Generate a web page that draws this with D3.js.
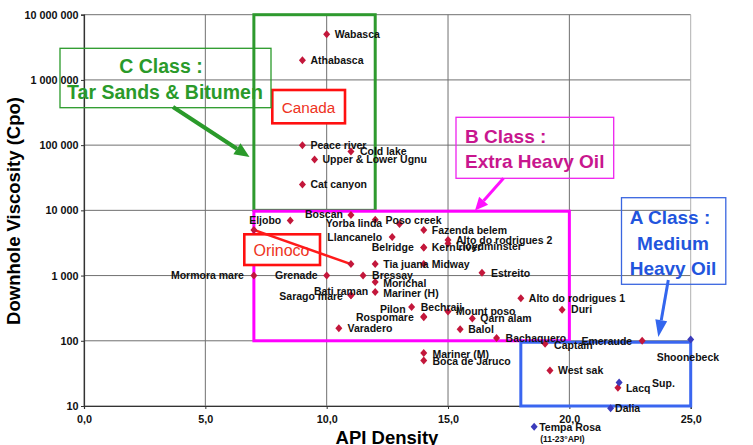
<!DOCTYPE html>
<html><head><meta charset="utf-8">
<script src="https://cdn.jsdelivr.net/npm/d3@7"></script>
<style>
body{margin:0;background:#fff;}
svg{display:block;font-family:"Liberation Sans",Arial,sans-serif;}
</style>
</head><body>
<svg id="c" width="753" height="445"></svg>
<script>
// ---------- DATA ----------
const redNames = ["Wabasca","Athabasca","Peace river","Cold lake","Upper & Lower Ugnu","Cat canyon",
  "Eljobo","Boscan","Yorba linda","Poso creek","Llancanelo","Fazenda belem","Belridge","Kern river",
  "Alto do rodrigues 2","Lloydminster","Tia juana","Midway","Estreito","Mormora mare","Grenade","Bressay",
  "Morichal","Mariner (H)","Bati raman","Sarago mare","Alto do rodrigues 1","Duri","Pilon","Bechraji",
  "Rospomare","Mount poso","Qarn alam","Varadero","Balol","Bachaquero","Mariner (M)","Boca de Jaruco",
  "Captain","Emeraude","West sak","Lacq"];
const redApi = [10,9,9,11,9.5,9,
  8.5,11,12,13,12.7,14,14,14,
  15,15,12,14,16.4,7,10,11.5,
  12,12,11,11,18,19.7,13.5,14,
  14,15,16,10.5,15.5,17,14,14,
  19,23,19.2,22];
const redVisc = [5000000,2000000,100000,80000,60000,25000,
  7000,8500,7200,6200,3900,5000,2700,2700,
  3500,3100,1500,1500,1100,1000,1000,1000,
  800,560,500,500,450,300,330,235,
  230,280,220,155,150,110,65,50,
  90,100,35,19];

const blueNames = ["Shoonebeck","Sup.","Dalia","Tempa Rosa"];
const blueApi = [25,22.05,21.7,18.55];
const blueVisc = [105,23,9.2,4.8];

const orinocoApi = [7,11];
const orinocoVisc = [5000,1500];

const classNames = ["C","B","A"];
const classApi0 = [7,7,18];
const classApi1 = [12,20,25];
const classVisc0 = [10000,100,10];
const classVisc1 = [10000000,9700,95];

const xTickVals = [0,5,10,15,20,25];
const xTickLabels = ["0,0","5,0","10,0","15,0","20,0","25,0"];
const yTickVals = [10,100,1000,10000,100000,1000000,10000000];
const yTickLabels = ["10","100","1 000","10 000","100 000","1 000 000","10 000 000"];

// ---------- LAYOUT / STYLE ----------
const W = 753, H = 445;
const plot = {l:84, r:690.7, t:14.7, b:406};
const x = d3.scaleLinear().domain([0,25]).range([plot.l, plot.r]);
const y = d3.scaleLog().domain([10,10000000]).range([plot.b, plot.t]);

const RED = "#C3173B", BLUE = "#3B3BBB";
const classColors = {C:"#2E9A2E", B:"#FF00FF", A:"#3A66F0"};

// label placement (anchor, dx, dy) relative to each marker
const labelPlace = {
  "Cold lake":["start",9,0],
  "Eljobo":["end",-9,0],
  "Boscan":["end",-8,-1],
  "Yorba linda":["end",7,3.5],
  "Poso creek":["start",-14,-3.5],
  "Llancanelo":["end",-10,0],
  "Belridge":["end",-10,0],
  "Lloydminster":["start",8,2.5],
  "Mormora mare":["end",-10,0],
  "Grenade":["end",-9,0],
  "Bressay":["start",9,0],
  "Morichal":["start",8,1],
  "Mariner (H)":["start",8,1],
  "Bati raman":["start",-37,-3.5],
  "Sarago mare":["end",-8,1],
  "Pilon":["end",-6,2.5],
  "Bechraji":["start",-3,-9.5],
  "Rospomare":["end",-10,0],
  "Estreito":["start",9,0],
  "Duri":["start",9,0],
  "Captain":["start",9,1.5],
  "Emeraude":["end",-10,0.5],
  "Bachaquero":["start",9,0],
  "Varadero":["start",8.7,0],
  "Mariner (M)":["start",8.7,1],
  "Boca de Jaruco":["start",8.7,0.7],
  "Shoonebeck":["start",-34,17.5],
  "Sup.":["start",33,0.7],
  "Dalia":["start",4.5,0.3],
  "Tempa Rosa":["start",5,0.6]
};

const svg = d3.select("#c");
svg.append("rect").attr("width",W).attr("height",H).attr("fill","#fff");

// ---------- GRID ----------
const grid = svg.append("g");
grid.selectAll("line.h").data(yTickVals).join("line")
  .attr("x1",plot.l).attr("x2",plot.r)
  .attr("y1",d=>y(d)).attr("y2",d=>y(d))
  .attr("stroke","#707070").attr("stroke-width",1);
grid.selectAll("line.v").data(xTickVals).join("line")
  .attr("x1",d=>x(d)).attr("x2",d=>x(d))
  .attr("y1",plot.t).attr("y2",plot.b)
  .attr("stroke",(d,i)=> i===xTickVals.length-1 ? "#b0b0b0" : "#707070").attr("stroke-width",1);

// ---------- AXES ----------
const yAxis = svg.append("g").attr("transform",`translate(${plot.l},0)`)
  .call(d3.axisLeft(y).tickValues(yTickVals).tickFormat((d,i)=>yTickLabels[i]).tickSize(3).tickPadding(2));
const xAxis = svg.append("g").attr("transform",`translate(0,${plot.b})`)
  .call(d3.axisBottom(x).tickValues(xTickVals).tickFormat((d,i)=>xTickLabels[i]).tickSize(3).tickPadding(6));
[yAxis,xAxis].forEach(a=>{
  a.select(".domain").attr("stroke","#333").attr("stroke-width",1.2);
  a.selectAll(".tick line").attr("stroke","#333");
  a.selectAll("text").attr("font-family","Liberation Sans, Arial, sans-serif")
    .attr("font-size",10.8).attr("font-weight","bold").attr("fill","#111");
});
yAxis.selectAll("text").attr("x",-5.5);

svg.append("text").attr("transform","translate(20,211) rotate(-90)")
  .attr("text-anchor","middle").attr("font-size",18.5).attr("font-weight","bold").attr("fill","#000")
  .text("Downhole Viscosity (Cpo)");
svg.append("text").attr("x",387).attr("y",443.5)
  .attr("text-anchor","middle").attr("font-size",18.5).attr("font-weight","bold").attr("fill","#000")
  .text("API Density");

// ---------- CLASS RECTANGLES ----------
const cls = svg.append("g");
classNames.forEach((c,i)=>{
  cls.append("rect")
    .attr("x",x(classApi0[i])).attr("y",y(classVisc1[i]))
    .attr("width",x(classApi1[i])-x(classApi0[i]))
    .attr("height",y(classVisc0[i])-y(classVisc1[i]))
    .attr("fill","none").attr("stroke",classColors[c]).attr("stroke-width",3);
});

// ---------- ANNOTATION BOXES ----------
const ann = svg.append("g");
// Canada
ann.append("rect").attr("x",272.3).attr("y",90).attr("width",72.7).attr("height",33.3)
  .attr("fill","#fff").attr("stroke","#FF1010").attr("stroke-width",2.6);
ann.append("text").attr("x",308.6).attr("y",112.5).attr("text-anchor","middle")
  .attr("font-size",15.3).attr("fill","#EE3322").text("Canada");
// Orinoco
ann.append("rect").attr("x",244.3).attr("y",234.3).attr("width",75.7).attr("height",30.7)
  .attr("fill","#fff").attr("stroke","#FF1010").attr("stroke-width",2.6);
ann.append("text").attr("x",281.5).attr("y",255.5).attr("text-anchor","middle")
  .attr("font-size",16).attr("fill","#EE3322").text("Orinoco");

// Orinoco range line
svg.append("path")
  .datum(orinocoApi.map((a,i)=>[a,orinocoVisc[i]]))
  .attr("d",d3.line().x(d=>x(d[0])).y(d=>y(d[1])))
  .attr("stroke","#FF1A1A").attr("stroke-width",2.5).attr("fill","none");

// ---------- MARKERS ----------
const diamond = "M0,-4L3.5,0L0,4L-3.5,0Z";
const marks = svg.append("g");
marks.selectAll("path.o").data(orinocoApi).join("path")
  .attr("d",diamond).attr("transform",(d,i)=>`translate(${x(d)},${y(orinocoVisc[i])})`)
  .attr("fill",RED);
marks.selectAll("path.r").data(redApi).join("path").attr("class","r")
  .attr("d",diamond).attr("transform",(d,i)=>`translate(${x(d)},${y(redVisc[i])})`)
  .attr("fill",RED);
marks.selectAll("path.b").data(blueApi).join("path").attr("class","b")
  .attr("d",diamond).attr("transform",(d,i)=>`translate(${x(d)},${y(blueVisc[i])})`)
  .attr("fill",BLUE);

// ---------- LABELS ----------
const labs = svg.append("g").attr("font-size",10.5).attr("font-weight","bold").attr("fill","#111");
function addLabel(name,px,py){
  const p = labelPlace[name] || ["start",8,0];
  labs.append("text").attr("x",px+p[1]).attr("y",py+p[2]+3.8)
    .attr("text-anchor",p[0]).text(name);
}
redNames.forEach((n,i)=>addLabel(n,x(redApi[i]),y(redVisc[i])));
blueNames.forEach((n,i)=>addLabel(n,x(blueApi[i]),y(blueVisc[i])));
const ti = blueNames.indexOf("Tempa Rosa");
labs.append("text").attr("x",x(blueApi[ti])+6).attr("y",y(blueVisc[ti])+15.5)
  .attr("font-size",8.5).text("(11-23°API)");

// ---------- CLASS CALLOUTS ----------
function arrow(x1,y1,x2,y2,color,w,hl,hw){
  const a = Math.atan2(y2-y1,x2-x1);
  const bx = x2 - hl*Math.cos(a), by = y2 - hl*Math.sin(a);
  svg.append("line").attr("x1",x1).attr("y1",y1).attr("x2",bx).attr("y2",by)
    .attr("stroke",color).attr("stroke-width",w);
  const px = -Math.sin(a)*hw/2, py = Math.cos(a)*hw/2;
  svg.append("path").attr("d",`M${x2},${y2}L${bx+px},${by+py}L${bx-px},${by-py}Z`).attr("fill",color);
}
// C class
svg.append("rect").attr("x",60).attr("y",48.3).attr("width",211).attr("height",59.4)
  .attr("fill","none").attr("stroke","#2A9A2A").attr("stroke-width",1.3);
svg.append("text").attr("x",161).attr("y",73.3).attr("text-anchor","middle")
  .attr("font-size",19.5).attr("font-weight","bold").attr("fill","#2A9A2A").text("C Class :");
svg.append("text").attr("x",165).attr("y",99.3).attr("text-anchor","middle")
  .attr("font-size",19.5).attr("font-weight","bold").attr("fill","#2A9A2A").text("Tar Sands & Bitumen");
arrow(173,107,249.5,157,"#2A9A2A",4,15,13);

// B class
svg.append("rect").attr("x",456).attr("y",117.3).attr("width",157.7).attr("height",61)
  .attr("fill","none").attr("stroke","#EE22EE").attr("stroke-width",1.3);
svg.append("text").attr("x",465).attr("y",142.7)
  .attr("font-size",19).attr("font-weight","bold").attr("fill","#C8168E").text("B Class :");
svg.append("text").attr("x",465).attr("y",168.3)
  .attr("font-size",19).attr("font-weight","bold").attr("fill","#C8168E").text("Extra Heavy Oil");
arrow(503.5,178.3,475,210.5,"#FF10FF",3,13,12);

// A class
svg.append("rect").attr("x",621.5).attr("y",197.7).attr("width",104.3).attr("height",86.6)
  .attr("fill","none").attr("stroke","#3A66E0").attr("stroke-width",1.3);
svg.append("text").attr("x",670).attr("y",224).attr("text-anchor","middle")
  .attr("font-size",19).attr("font-weight","bold").attr("fill","#2255DD").text("A Class :");
svg.append("text").attr("x",673).attr("y",250).attr("text-anchor","middle")
  .attr("font-size",19).attr("font-weight","bold").attr("fill","#2255DD").text("Medium");
svg.append("text").attr("x",673).attr("y",275).attr("text-anchor","middle")
  .attr("font-size",19).attr("font-weight","bold").attr("fill","#2255DD").text("Heavy Oil");
arrow(668.3,280,658.3,337,"#3366EE",3,17,12);
</script>
</body></html>
